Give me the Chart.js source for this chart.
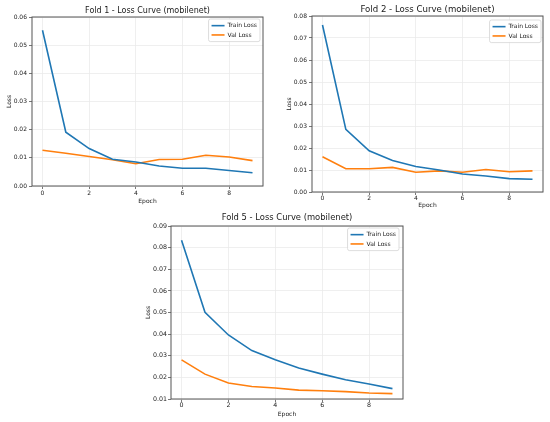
<!DOCTYPE html>
<html>
<head>
<meta charset="utf-8">
<script src="https://cdn.jsdelivr.net/npm/chart.js@4.4.1/dist/chart.umd.min.js"></script>
<style>
  body { margin: 0; background: #fff; }
  #wrap { position: relative; width: 550px; height: 422px; }
  canvas { position: absolute; }
</style>
</head>
<body>
<div id="wrap">
  <canvas id="fold1" width="272" height="212" style="left:0px;top:0px"></canvas>
  <canvas id="fold2" width="275" height="212" style="left:275px;top:0px"></canvas>
  <canvas id="fold5" width="290" height="217" style="left:130px;top:205px"></canvas>
</div>
<script>
const epochs = [0, 1, 2, 3, 4, 5, 6, 7, 8, 9];
const xTicks = [0, 2, 4, 6, 8];

const fold1Train = [0.0553, 0.0191, 0.0133, 0.0095, 0.0085, 0.0071, 0.0063, 0.0063, 0.0055, 0.0047];
const fold1Val   = [0.0127, 0.0116, 0.0105, 0.0093, 0.0079, 0.0094, 0.0095, 0.0109, 0.0103, 0.0090];
const fold1YTicks = [0, 0.01, 0.02, 0.03, 0.04, 0.05, 0.06];

const fold2Train = [0.0759, 0.0285, 0.0187, 0.0143, 0.0116, 0.0100, 0.0082, 0.0073, 0.0061, 0.0058];
const fold2Val   = [0.0160, 0.0106, 0.0106, 0.0112, 0.0090, 0.0096, 0.0090, 0.0102, 0.0092, 0.0096];
const fold2YTicks = [0, 0.01, 0.02, 0.03, 0.04, 0.05, 0.06, 0.07, 0.08];

const fold5Train = [0.0834, 0.0501, 0.0396, 0.0324, 0.0281, 0.0243, 0.0215, 0.0189, 0.0169, 0.0148];
const fold5Val   = [0.0281, 0.0215, 0.0174, 0.0158, 0.0151, 0.0141, 0.0138, 0.0134, 0.0128, 0.0125];
const fold5YTicks = [0.01, 0.02, 0.03, 0.04, 0.05, 0.06, 0.07, 0.08, 0.09];

const FONT = 'DejaVu Sans';
const TEXT = '#1a1a1a';
const BLUE = '#1f77b4';
const ORANGE = '#ff7f0e';

Chart.defaults.font.family = FONT;

// frame (all four spines), title over the plot area, legend inside upper right
const framePlugin = {
  id: 'frame',
  afterDraw(chart, args, o) {
    const { ctx, chartArea: a } = chart;
    ctx.save();
    ctx.strokeStyle = '#555';
    ctx.lineWidth = 1;
    ctx.strokeRect(a.left, a.top, a.right - a.left, a.bottom - a.top);

    ctx.fillStyle = TEXT;
    ctx.font = o.titleSize + 'px "' + FONT + '"';
    ctx.textAlign = 'center';
    ctx.textBaseline = 'middle';
    ctx.fillText(o.title, (a.left + a.right) / 2, a.top - o.titleGap);

    const sets = chart.data.datasets;
    ctx.font = '6px "' + FONT + '"';
    const textW = Math.max(...sets.map(d => ctx.measureText(d.label).width));
    const pad = 3, lineLen = 13, gap = 3, rowH = 9.3;
    const w = pad + lineLen + gap + textW + pad;
    const h = 4 + rowH * sets.length;
    const x = a.right - o.legendRight - w;
    const y = a.top + o.legendTop;
    ctx.beginPath();
    ctx.roundRect(x, y, w, h, 2);
    ctx.fillStyle = 'rgba(255,255,255,0.85)';
    ctx.fill();
    ctx.strokeStyle = '#d4d4d4';
    ctx.lineWidth = 0.8;
    ctx.stroke();
    ctx.textAlign = 'left';
    sets.forEach((d, i) => {
      const cy = y + 2 + rowH * (i + 0.5);
      ctx.strokeStyle = d.borderColor;
      ctx.lineWidth = 1.6;
      ctx.beginPath();
      ctx.moveTo(x + pad, cy);
      ctx.lineTo(x + pad + lineLen, cy);
      ctx.stroke();
      ctx.fillStyle = TEXT;
      ctx.fillText(d.label, x + pad + lineLen + gap, cy);
    });
    ctx.restore();
  }
};

function makeChart(id, title, train, val, yTicks, L) {
  const font = { family: FONT, size: L.tickSize };
  new Chart(document.getElementById(id), {
    type: 'line',
    data: {
      datasets: [
        { label: 'Train Loss', data: epochs.map((e, i) => ({ x: e, y: train[i] })),
          borderColor: BLUE, backgroundColor: BLUE, borderWidth: 1.6, pointRadius: 0, tension: 0 },
        { label: 'Val Loss', data: epochs.map((e, i) => ({ x: e, y: val[i] })),
          borderColor: ORANGE, backgroundColor: ORANGE, borderWidth: 1.6, pointRadius: 0, tension: 0 }
      ]
    },
    options: {
      responsive: false,
      animation: false,
      events: [],
      layout: { padding: { top: L.top, right: L.right, left: 0, bottom: 0 } },
      plugins: {
        legend: { display: false },
        tooltip: { enabled: false },
        frame: { title: title, titleSize: L.titleSize, titleGap: L.titleGap, legendRight: L.legendRight, legendTop: L.legendTop }
      },
      scales: {
        x: {
          type: 'linear',
          min: -0.45,
          max: 9.45,
          afterBuildTicks: s => { s.ticks = xTicks.map(v => ({ value: v })); },
          afterFit: s => { s.height = L.xh; },
          ticks: { font: font, color: TEXT, padding: L.xpad, maxRotation: 0, callback: v => String(v) },
          grid: { color: '#ebebeb', lineWidth: 0.8, tickColor: '#555', tickLength: 3, tickWidth: 0.8 },
          border: { display: false },
          title: { display: true, text: 'Epoch', color: TEXT, font: { family: FONT, size: 6 }, padding: { top: 0, bottom: L.xtitle } }
        },
        y: {
          min: yTicks[0],
          max: yTicks[yTicks.length - 1],
          afterBuildTicks: s => { s.ticks = yTicks.map(v => ({ value: v })); },
          afterFit: s => { s.width = L.yw; },
          ticks: { font: font, color: TEXT, padding: L.ypad, callback: v => v.toFixed(2) },
          grid: { color: '#ebebeb', lineWidth: 0.8, tickColor: '#555', tickLength: 3, tickWidth: 0.8 },
          border: { display: false },
          title: { display: true, text: 'Loss', color: TEXT, font: { family: FONT, size: 6 }, padding: { top: L.ytitle, bottom: 0 } }
        }
      }
    },
    plugins: [framePlugin]
  });
}

makeChart('fold1', 'Fold 1 - Loss Curve (mobilenet)', fold1Train, fold1Val, fold1YTicks,
  { top: 17, right: 9, yw: 32, xh: 26, xpad: 1, ypad: 2, ytitle: 5.4, xtitle: 6.7,
    tickSize: 6, titleSize: 8, titleGap: 6.3, legendRight: 3, legendTop: 2 });

makeChart('fold2', 'Fold 2 - Loss Curve (mobilenet)', fold2Train, fold2Val, fold2YTicks,
  { top: 16, right: 7, yw: 37, xh: 20, xpad: 0, ypad: 2, ytitle: 10.4, xtitle: 3.4,
    tickSize: 6, titleSize: 8.6, titleGap: 6, legendRight: 2, legendTop: 4 });

makeChart('fold5', 'Fold 5 - Loss Curve (mobilenet)', fold5Train, fold5Val, fold5YTicks,
  { top: 21, right: 17, yw: 41, xh: 23, xpad: 0, ypad: 1, ytitle: 14.4, xtitle: 4.1,
    tickSize: 6.3, titleSize: 8.4, titleGap: 7.7, legendRight: 4, legendTop: 2 });
</script>
</body>
</html>
